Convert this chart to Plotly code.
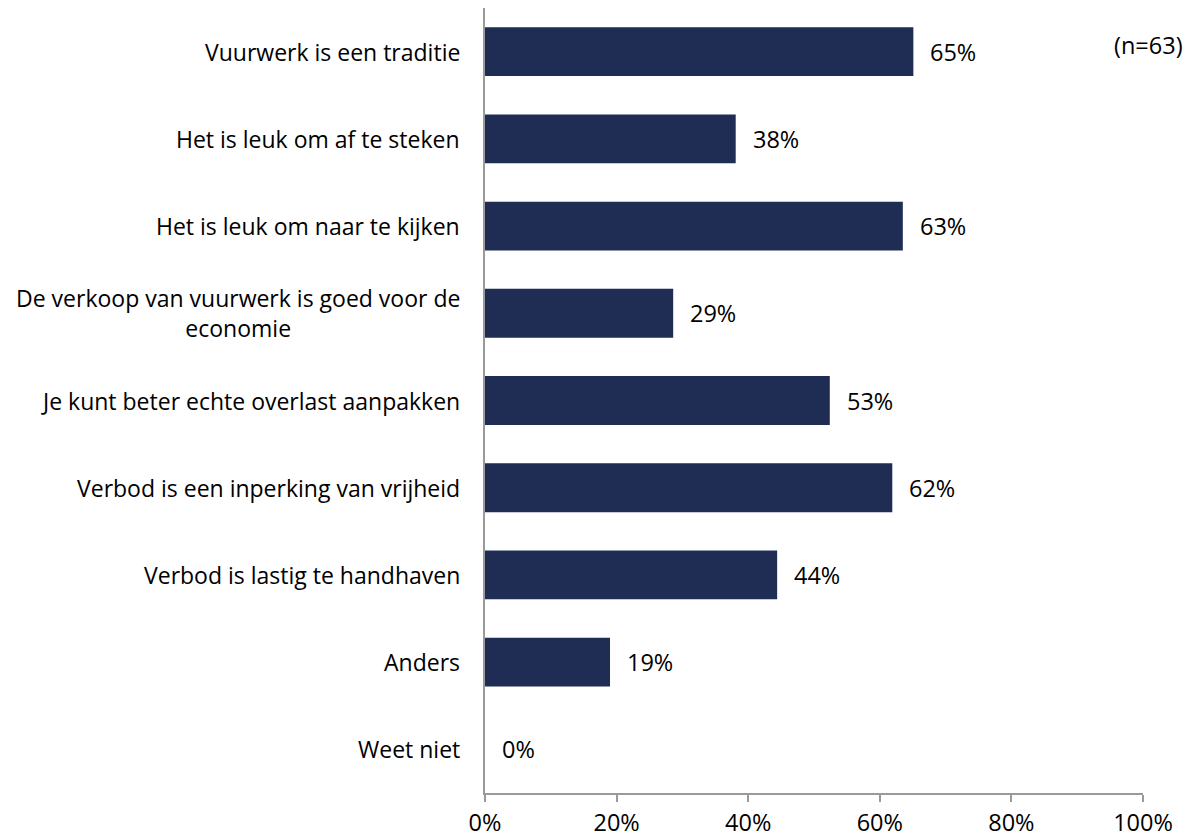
import plotly.graph_objects as go

categories = [
    "Vuurwerk is een traditie",
    "Het is leuk om af te steken",
    "Het is leuk om naar te kijken",
    "De verkoop van vuurwerk is goed voor de<br>economie",
    "Je kunt beter echte overlast aanpakken",
    "Verbod is een inperking van vrijheid",
    "Verbod is lastig te handhaven",
    "Anders",
    "Weet niet",
]
values = [65.1, 38.1, 63.5, 28.6, 52.4, 61.9, 44.4, 19.0, 0.0]
labels = ["65%", "38%", "63%", "29%", "53%", "62%", "44%", "19%", "0%"]
x_ticks = [0, 20, 40, 60, 80, 100]
x_tick_labels = ["0%", "20%", "40%", "60%", "80%", "100%"]

FONT = "Open Sans"
FS = 23.5
FS_CAT = 23
BAR = "#1F2D55"
AXIS = "#9A9A9A"

fig = go.Figure(go.Bar(
    x=values, y=categories, orientation="h",
    marker=dict(color=BAR, line=dict(width=0)),
    hoverinfo="skip",
))

annotations = []
for c, v, l in zip(categories, values, labels):
    annotations.append(dict(x=v, y=c, xref="x", yref="y", text=l, showarrow=False,
                            xanchor="left", xshift=15,
                            font=dict(family=FONT, size=FS, color="#000000")))
    annotations.append(dict(x=0, y=c, xref="paper", yref="y", text=c, showarrow=False,
                            xanchor="right", align="center", xshift=-23,
                            font=dict(family=FONT, size=FS_CAT, color="#000000")))
annotations.append(dict(x=1.0, y=categories[0], xref="paper", yref="y", text="(n=63)",
                        showarrow=False, xanchor="center", xshift=5, yshift=7,
                        font=dict(family=FONT, size=FS, color="#000000")))

fig.update_layout(
    width=1183, height=831,
    margin=dict(l=477, r=48, t=0, b=46),
    plot_bgcolor="white", paper_bgcolor="white",
    bargap=0.44,
    showlegend=False,
    annotations=annotations,
    xaxis=dict(range=[0, 100], tickvals=x_ticks, ticktext=x_tick_labels,
               showgrid=False, zeroline=False, showline=True, linecolor=AXIS, linewidth=2,
               ticks="outside", ticklen=7, tickcolor=AXIS, tickwidth=2,
               ticklabelstandoff=1,
               tickfont=dict(family=FONT, size=FS, color="#000000"), fixedrange=True),
    yaxis=dict(autorange="reversed", showticklabels=False, showgrid=False, zeroline=False,
               showline=True, linecolor=AXIS, linewidth=2, ticks="", fixedrange=True),
)

fig.write_html("out.html")
